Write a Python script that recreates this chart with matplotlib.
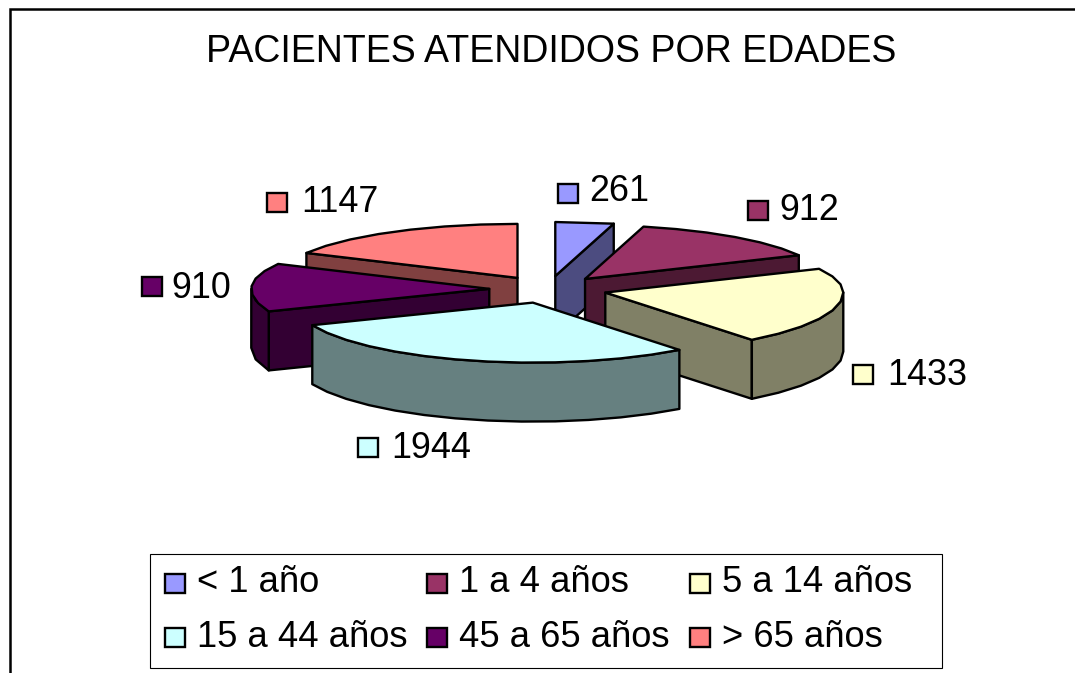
import numpy as np
import matplotlib
matplotlib.use('Agg')
import matplotlib.pyplot as plt
from matplotlib.patches import Polygon, Rectangle

# datos
categorias = ['< 1 año', '1 a 4 años', '5 a 14 años', '15 a 44 años', '45 a 65 años', '> 65 años']
pacientes = [261, 912, 1433, 1944, 910, 1147]
colores = ['#9999FF', '#993366', '#FFFFCC', '#CCFFFF', '#660066', '#FF8080']
colores_lado = ['#4C4C80', '#4C1933', '#808066', '#668080', '#330033', '#804040']

plt.rcParams['font.family'] = ['Liberation Sans', 'DejaVu Sans']

# geometria de la tarta, en pixeles de la figura
cx, cy = 548, 289.5
rx, ry_atras, ry_frente = 238, 54, 60  # la parte delantera se ve algo mayor
alto = 59
explode = 0.247
paso = 8  # grados entre puntos del borde
grosor = 1.7

# posiciones de etiquetas: cuadro (x, y) y texto (x, base)
cuadros_etq = [(558, 184), (748, 201), (853, 365), (358, 438), (142, 277), (267, 193)]
textos_etq = [(589, 201), (779, 220), (887, 385), (391, 458), (171, 298), (301, 212)]
# leyenda
ley_cuadros = [(165, 574), (427, 574), (690, 574), (165, 628), (427, 628), (690, 628)]
ley_textos = [(197, 592), (459, 592), (722, 592), (197, 647), (459, 647), (722, 647)]

fig = plt.figure(figsize=(10.75, 6.73), dpi=100)
ax = fig.add_axes([0, 0, 1, 1])
ax.set_xlim(0, 1075)
ax.set_ylim(673, 0)
ax.axis('off')


def punto(x0, y0, t):
    c = np.cos(t)
    return x0 + rx * np.sin(t), y0 - np.where(c > 0, ry_atras, ry_frente) * c


def borde(x0, y0, t1, t2):
    n = max(int(np.degrees(t2 - t1) / paso), 1) + 1
    ts = np.linspace(t1, t2, n)
    return np.column_stack(punto(x0, y0, ts))


def pared(puntos, color):
    abajo = puntos[::-1] + [0, alto]
    ax.add_patch(Polygon(np.vstack([puntos, abajo]), closed=True, fc=color, ec='k', lw=grosor, joinstyle='round'))


angulos = np.cumsum([0] + pacientes) / sum(pacientes) * 2 * np.pi
porciones = []
for i in range(len(pacientes)):
    t1, t2 = angulos[i], angulos[i + 1]
    mid = (t1 + t2) / 2
    x0 = cx + rx * explode * np.sin(mid)
    y0 = cy - 55 * explode * np.cos(mid)
    porciones.append((y0, x0, t1, t2, i))

# de atras hacia adelante
for y0, x0, t1, t2, i in sorted(porciones, key=lambda p: p[0]):
    lado = colores_lado[i]
    centro = np.array([[x0, y0]])
    # cara del corte final (lado derecho) o inicial (lado izquierdo)
    if t2 < np.pi:
        pared(np.vstack([centro, [punto(x0, y0, t2)]]), lado)
    if t1 > np.pi:
        pared(np.vstack([centro, [punto(x0, y0, t1)]]), lado)
    # pared exterior: solo la mitad delantera
    a = max(t1, np.pi / 2)
    b = min(t2, 3 * np.pi / 2)
    if a < b:
        pared(borde(x0, y0, a, b), lado)
    # cara superior
    ax.add_patch(Polygon(np.vstack([centro, borde(x0, y0, t1, t2)]), closed=True,
                         fc=colores[i], ec='k', lw=grosor, joinstyle='round'))

# etiquetas de datos
for i in range(len(pacientes)):
    ax.add_patch(Rectangle(cuadros_etq[i], 20, 19, fc=colores[i], ec='k', lw=grosor))
    ax.text(textos_etq[i][0], textos_etq[i][1], str(pacientes[i]), fontsize=25.8, ha='left', va='baseline')

# titulo
ax.text(551, 62, 'PACIENTES ATENDIDOS POR EDADES', fontsize=27, ha='center', va='baseline')

# leyenda
ax.add_patch(Rectangle((149.5, 553.5), 792.5, 114.5, fc='white', ec='k', lw=0.8))
for i in range(len(categorias)):
    ax.add_patch(Rectangle(ley_cuadros[i], 20, 19, fc=colores[i], ec='k', lw=grosor))
    ax.text(ley_textos[i][0], ley_textos[i][1], categorias[i], fontsize=26.2, ha='left', va='baseline')

# marco del grafico
ax.plot([9.5, 9.5, 1075], [673, 8.5, 8.5], color='k', lw=1.8, solid_joinstyle='miter')

fig.savefig('out.png', dpi=100)
